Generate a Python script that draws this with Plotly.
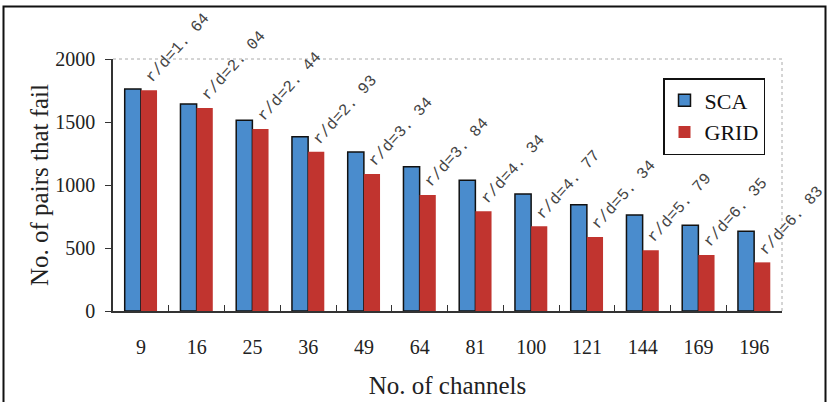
import plotly.graph_objects as go

channels = ["9", "16", "25", "36", "49", "64", "81", "100", "121", "144", "169", "196"]
sca = [1762, 1643, 1513, 1383, 1262, 1145, 1037, 929, 844, 762, 680, 632]
grid = [1752, 1611, 1444, 1264, 1087, 921, 791, 672, 587, 482, 444, 386]
ratios = ["r/d=1. 64", "r/d=2. 04", "r/d=2. 44", "r/d=2. 93", "r/d=3. 34", "r/d=3. 84",
          "r/d=4. 34", "r/d=4. 77", "r/d=5. 34", "r/d=5. 79", "r/d=6. 35", "r/d=6. 83"]

serif = "Liberation Serif, Times New Roman, serif"

fig = go.Figure()
fig.add_trace(go.Bar(x=channels, y=sca, name="SCA",
                     marker=dict(color="#4a8ccd", line=dict(color="#111111", width=1.5))))
fig.add_trace(go.Bar(x=channels, y=grid, name="GRID",
                     marker=dict(color="#c1342f", line=dict(width=0))))

for i, (v, t) in enumerate(zip(grid, ratios)):
    fig.add_annotation(x=i, y=v, text=t, showarrow=False, textangle=-48,
                       xanchor="left", yanchor="bottom", xshift=-1, yshift=1,
                       font=dict(family="Liberation Mono, DejaVu Sans Mono, monospace",
                                 size=16, color="#444444"))

W, H = 832, 402
L, R, T, B = 113, 50, 59, 91
pw, ph = W - L - R, H - T - B

def px(x):
    return (x - L) / pw

def py(y):
    return (H - B - y) / ph

# dotted plot-area border (top and right)
fig.add_shape(type="line", xref="paper", yref="paper", x0=0, x1=1, y0=1, y1=1,
              line=dict(color="#aaaaaa", width=1, dash="dot"))
fig.add_shape(type="line", xref="paper", yref="paper", x0=1, x1=1, y0=0, y1=1,
              line=dict(color="#aaaaaa", width=1, dash="dot"))
# outer frame
fig.add_shape(type="rect", xref="paper", yref="paper",
              x0=px(3.5), x1=px(825.5), y0=py(410), y1=py(6.5),
              line=dict(color="#111111", width=2), layer="below")

fig.update_layout(
    width=W, height=H,
    margin=dict(l=L, r=R, t=T, b=B, autoexpand=False),
    paper_bgcolor="white", plot_bgcolor="white",
    barmode="group", bargap=0.42, bargroupgap=0,
    font=dict(family=serif, color="#222222"),
    showlegend=True,
    legend=dict(x=px(663), y=py(78), xanchor="left", yanchor="top",
                bordercolor="#111111", borderwidth=1.5, bgcolor="white",
                font=dict(family=serif, size=22, color="#111111"),
                traceorder="normal", itemwidth=30),
    xaxis=dict(type="category", range=[-0.5, len(channels) - 0.5], autorange=False,
               automargin=False,
               showline=True, linecolor="#333333", linewidth=1.5,
               ticks="inside", tickson="boundaries", ticklen=6, tickcolor="#333333",
               tickfont=dict(family=serif, size=20), showgrid=False, tickangle=0,
               ticklabelstandoff=17,
               title=dict(text="No. of channels", font=dict(family=serif, size=25), standoff=20)),
    yaxis=dict(range=[0, 2000], tickvals=[0, 500, 1000, 1500, 2000], showline=True,
               automargin=False,
               linecolor="#333333", linewidth=1.5, ticks="outside", ticklen=6,
               tickcolor="#333333", showgrid=False, zeroline=False,
               tickfont=dict(family=serif, size=20), ticklabelstandoff=6,
               title=dict(text="No. of pairs that fail", font=dict(family=serif, size=25), standoff=0)),
)

fig.write_html("out.html")
